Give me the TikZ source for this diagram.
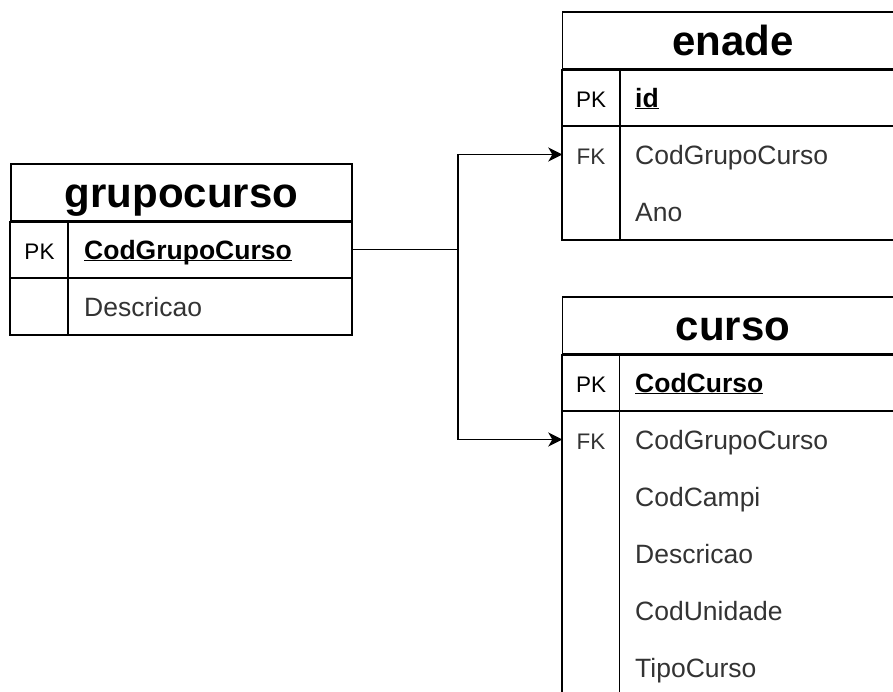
\documentclass[tikz,border=0pt]{standalone}
\usepackage{fontspec}
\setmainfont{Liberation Sans}
\usetikzlibrary{arrows.meta}

\newcommand{\titlefont}{\fontsize{42}{48}\selectfont\bfseries}
\newcommand{\fieldfont}{\fontsize{26.5}{30}\selectfont}
\newcommand{\keyfont}{\fontsize{22.5}{26}\selectfont}
\newcommand{\pkname}[1]{\underline{\smash{#1}}}

\begin{document}
\begin{tikzpicture}[x=1pt, y=-1pt,
    tabline/.style={line width=1.9pt},
    tabtitle/.style={draw, tabline, minimum width=341pt, minimum height=57pt, inner sep=0pt,
                     text height=29pt, text depth=0pt, font=\titlefont},
    keycell/.style={minimum width=57pt, minimum height=57pt, inner sep=0pt,
                    text height=19pt, text depth=0pt, font=\keyfont},
    fieldcell/.style={anchor=west, inner sep=0pt, text height=19pt, text depth=0pt,
                      font=\fieldfont, text=black!80},
    pkfield/.style={fieldcell, font=\fieldfont\bfseries, text=black},
    fkarrow/.style={-{Stealth[length=14pt, width=14pt, inset=4pt]}, line width=1.9pt}]
    \path[use as bounding box, clip] (0,0) rectangle (893,691);

    % grupocurso
    \node[tabtitle] (grupocurso) at (181.5,192.5) {grupocurso};
    \node[keycell] (gc-pk) at (39.5,249.5) {PK};
    \node[pkfield] (gc-cod) at (84,249.5) {\pkname{CodGrupoCurso}};
    \node[fieldcell] (gc-desc) at (84,306.5) {Descricao};
    \draw[tabline] (grupocurso.south west) rectangle (352,335);
    \draw[tabline] (11,278) -- (352,278);
    \draw[tabline] (68,221) -- (68,335);

    % enade
    \node[tabtitle] (enade) at (733,40.5) {enade};
    \node[keycell] (en-pk) at (591,97.5) {PK};
    \node[pkfield] (en-id) at (635,97.5) {\pkname{id}};
    \node[keycell, text=black!80] (en-fk) at (591,154.5) {FK};
    \node[fieldcell] (en-grupo) at (635,154.5) {CodGrupoCurso};
    \node[fieldcell] (en-ano) at (635,211.5) {Ano};
    \draw[tabline] (enade.south west) rectangle (903.5,240);
    \draw[tabline] (562.5,126) -- (903.5,126);
    \draw[tabline] (620,69) -- (620,240);

    % curso
    \node[tabtitle] (curso) at (733,325.5) {curso};
    \node[keycell] (cu-pk) at (591,382.5) {PK};
    \node[pkfield] (cu-cod) at (635,382.5) {\pkname{CodCurso}};
    \node[keycell, text=black!80] (cu-fk) at (591,439.5) {FK};
    \node[fieldcell] (cu-grupo) at (635,439.5) {CodGrupoCurso};
    \node[fieldcell] (cu-campi) at (635,496.5) {CodCampi};
    \node[fieldcell] (cu-desc) at (635,553.5) {Descricao};
    \node[fieldcell] (cu-unid) at (635,610.5) {CodUnidade};
    \node[fieldcell] (cu-tipo) at (635,667.5) {TipoCurso};
    \draw[tabline] (curso.south west) rectangle (903.5,725);
    \draw[tabline] (562.5,411) -- (903.5,411);
    \draw[tabline] (619.5,354) -- (619.5,725);

    % relations
    \draw[fkarrow] (gc-pk -| grupocurso.east) -- ++(105,0) |- (en-fk.west);
    \draw[fkarrow] (gc-pk -| grupocurso.east) -- ++(105,0) |- (cu-fk.west);
\end{tikzpicture}
\end{document}
